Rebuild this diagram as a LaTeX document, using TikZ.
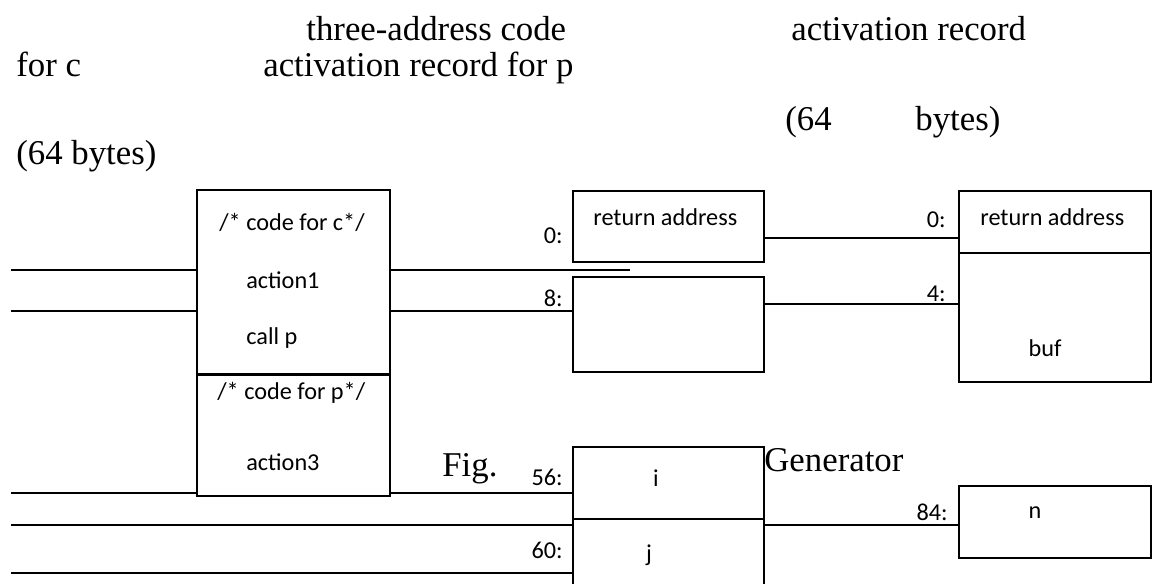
\documentclass[tikz,border=0pt]{standalone}
\usepackage{fontspec}
\setmainfont{Liberation Serif}
\setsansfont{Carlito}
\usepackage{tikz}
\usetikzlibrary{positioning,calc}

\begin{document}
\begin{tikzpicture}[
  x=0.02cm, y=-0.02cm,
  cell/.style={
    rectangle, draw=black, line width=1.1pt,
    minimum width=#1, inner sep=0pt
  },
  cell/.default=3.84cm,
  lbl/.style={inner sep=0pt, font=\sffamily\fontsize{13.8}{16}\selectfont},
  head/.style={inner sep=0pt, anchor=base west, font=\fontsize{19.8}{24}\selectfont},
  wire/.style={line width=1.1pt}
]
\useasboundingbox (0,0) rectangle (1159,583);
\clip (0,0) rectangle (1159,583);

% headings
\node[head] (h1) at (306,40) {three-address code};
\node[head] (h2) at (791,40) {activation record};
\node[head] (h3) at (16,76) {for c};
\node[head] (h4) at (263,76) {activation record for p};
\node[head] (h5) at (785,130) {(64};
\node[head] (h6) at (915,130) {bytes)};
\node[head] (h7) at (16,164) {(64 bytes)};
\node[head] (fig) at (442,476) {Fig.};
\node[head] (gen) at (764,471) {Generator};

% code boxes
\node[cell=3.86cm, minimum height=3.68cm] (codec) at (293.5,282) {};
\node[cell=3.86cm, minimum height=2.42cm] (codep) at (293.5,435.5) {};
\node[lbl, anchor=west] (c1) at (219,222) {/* code for c*/};
\node[lbl, anchor=west] (c2) at (246,280) {action1};
\node[lbl, anchor=west] (c3) at (246,338) {call p};
\node[lbl, anchor=west] (c4) at (217,393) {/* code for p*/};
\node[lbl, anchor=west] (c5) at (246,462) {action3};

% activation record for c
\node[cell=3.82cm, minimum height=1.42cm] (ret) at (668.5,226.5) {};
\node[cell=3.82cm, minimum height=1.9cm] (slot) at (668.5,324.5) {};
\node[cell=3.82cm, minimum height=1.44cm] (vari) at (668.5,483) {};
\node[cell=3.82cm, minimum height=1.62cm] (varj) at (668.5,559.5) {};
\node[lbl, anchor=west] at (593,217) {return address};
\node[lbl] at (656,478) {i};
\node[lbl] at (649,555) {j};
\node[lbl, anchor=east] (o0) at (563,236) {0:};
\node[lbl, anchor=east] (o8) at (563,298) {8:};
\node[lbl, anchor=east] (o56) at (563,477) {56:};
\node[lbl, anchor=east] (o60) at (563,550) {60:};

% activation record for p
\node[cell, minimum height=1.24cm] (pret) at (1055,222) {};
\node[cell, minimum height=2.58cm] (buf) at (1055,317.5) {};
\node[cell, minimum height=1.44cm] (varn) at (1055,522) {};
\node[lbl, anchor=west] at (980,217) {return address};
\node[lbl] at (1045,348) {buf};
\node[lbl] at (1035,513) {n};
\node[lbl, anchor=east] (p0) at (946,220) {0:};
\node[lbl, anchor=east] (p4) at (946,294) {4:};
\node[lbl, anchor=east] (p84) at (948,512) {84:};

% connectors
\coordinate (inA) at (11,270);
\coordinate (inB) at (11,311);
\coordinate (inC) at (11,493);
\coordinate (inD) at (11,525);
\coordinate (inE) at (11,573);
\coordinate (stub) at (630,270);
\coordinate (rA) at (0,238);
\coordinate (rB) at (0,304);

\foreach \a in {inA,inB,inC} {
  \draw[wire] (\a) -- (\a -| codec.west);
}
\draw[wire] (inA -| codec.east) -- (stub);
\draw[wire] (inB -| codec.east) -- (inB -| slot.west);
\draw[wire] (inC -| codep.east) -- (inC -| vari.west);
\foreach \a in {inD,inE} {
  \draw[wire] (\a) -- (\a -| vari.west);
}
\draw[wire] (rA -| ret.east) -- (rA -| pret.west);
\draw[wire] (rB -| slot.east) -- (rB -| buf.west);
\draw[wire] (inD -| varj.east) -- (inD -| varn.west);
\end{tikzpicture}
\end{document}
